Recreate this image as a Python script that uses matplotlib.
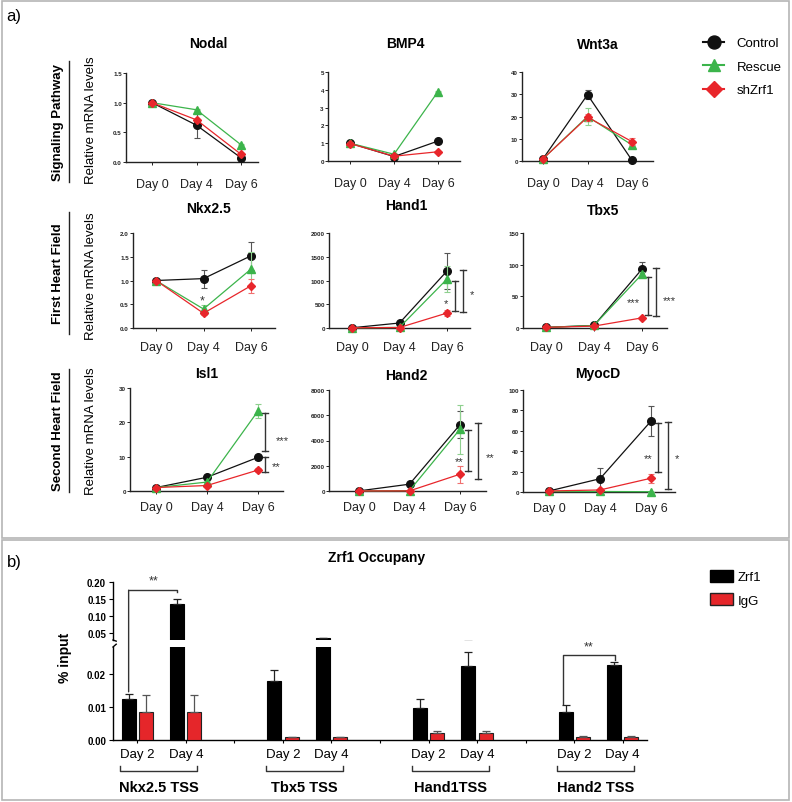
import matplotlib
matplotlib.use('Agg')
import matplotlib.pyplot as plt
import numpy as np
from matplotlib.lines import Line2D
from matplotlib.patches import Rectangle, ConnectionPatch, Patch
import matplotlib.transforms as mtrans

plt.rcParams['font.family'] = ['Liberation Sans', 'DejaVu Sans']

W, H, DPI = 792, 803, 100

# ---------------- Panel a data ----------------
days = ['Day 0', 'Day 4', 'Day 6']
series_names = ['Control', 'Rescue', 'shZrf1']

nodal_ctrl = [1.0, 0.62, 0.07];   nodal_ctrl_err = [0.0, 0.22, 0.02]
nodal_resc = [1.0, 0.88, 0.29];   nodal_resc_err = [0.0, 0.01, 0.01]
nodal_sh = [1.0, 0.71, 0.13];     nodal_sh_err = [0.0, 0.02, 0.02]

bmp4_ctrl = [1.0, 0.25, 1.12];    bmp4_ctrl_err = [0.05, 0.05, 0.05]
bmp4_resc = [1.0, 0.38, 3.9];     bmp4_resc_err = [0.05, 0.05, 0.05]
bmp4_sh = [0.98, 0.27, 0.52];     bmp4_sh_err = [0.05, 0.05, 0.05]

wnt3a_ctrl = [1.0, 29.8, 0.3];    wnt3a_ctrl_err = [0.3, 2.0, 0.2]
wnt3a_resc = [1.0, 20.0, 7.2];    wnt3a_resc_err = [0.3, 3.7, 1.0]
wnt3a_sh = [1.0, 19.7, 8.7];      wnt3a_sh_err = [0.3, 1.6, 1.5]

nkx_ctrl = [1.0, 1.04, 1.52];     nkx_ctrl_err = [0.0, 0.19, 0.30]
nkx_resc = [1.0, 0.40, 1.24];     nkx_resc_err = [0.0, 0.08, 0.35]
nkx_sh = [1.0, 0.31, 0.89];       nkx_sh_err = [0.0, 0.03, 0.15]

hand1_ctrl = [5, 105, 1200];      hand1_ctrl_err = [2, 15, 380]
hand1_resc = [5, 12, 1030];       hand1_resc_err = [2, 5, 280]
hand1_sh = [5, 10, 315];          hand1_sh_err = [2, 3, 60]

tbx5_ctrl = [1, 4, 93];           tbx5_ctrl_err = [0.3, 1, 11]
tbx5_resc = [1, 4, 85];           tbx5_resc_err = [0.3, 1, 4]
tbx5_sh = [1, 3, 16];             tbx5_sh_err = [0.3, 0.5, 2]

isl1_ctrl = [1, 4.0, 9.8];        isl1_ctrl_err = [0.1, 0.3, 0.8]
isl1_resc = [1, 2.6, 23.3];       isl1_resc_err = [0.1, 0.3, 1.9]
isl1_sh = [1, 1.6, 6.1];          isl1_sh_err = [0.1, 0.2, 0.7]

hand2_ctrl = [10, 540, 5250];     hand2_ctrl_err = [5, 40, 1070]
hand2_resc = [5, 30, 4900];       hand2_resc_err = [5, 10, 1950]
hand2_sh = [5, 10, 1330];         hand2_sh_err = [5, 5, 680]

myocd_ctrl = [1, 13, 69.5];       myocd_ctrl_err = [0.3, 11, 15]
myocd_resc = [0.5, 0.5, 0.3];     myocd_resc_err = [0, 0, 0]
myocd_sh = [1, 2, 13.5];          myocd_sh_err = [0.3, 0.5, 4.5]

gene_names = ['Nodal', 'BMP4', 'Wnt3a', 'Nkx2.5', 'Hand1', 'Tbx5', 'Isl1', 'Hand2', 'MyocD']
gene_yticks = [[0.0, 0.5, 1.0, 1.5], [0, 1, 2, 3, 4, 5], [0, 10, 20, 30, 40],
               [0.0, 0.5, 1.0, 1.5, 2.0], [0, 500, 1000, 1500, 2000], [0, 50, 100, 150],
               [0, 10, 20, 30], [0, 2000, 4000, 6000, 8000], [0, 20, 40, 60, 80, 100]]
gene_data = [
    [(nodal_ctrl, nodal_ctrl_err), (nodal_resc, nodal_resc_err), (nodal_sh, nodal_sh_err)],
    [(bmp4_ctrl, bmp4_ctrl_err), (bmp4_resc, bmp4_resc_err), (bmp4_sh, bmp4_sh_err)],
    [(wnt3a_ctrl, wnt3a_ctrl_err), (wnt3a_resc, wnt3a_resc_err), (wnt3a_sh, wnt3a_sh_err)],
    [(nkx_ctrl, nkx_ctrl_err), (nkx_resc, nkx_resc_err), (nkx_sh, nkx_sh_err)],
    [(hand1_ctrl, hand1_ctrl_err), (hand1_resc, hand1_resc_err), (hand1_sh, hand1_sh_err)],
    [(tbx5_ctrl, tbx5_ctrl_err), (tbx5_resc, tbx5_resc_err), (tbx5_sh, tbx5_sh_err)],
    [(isl1_ctrl, isl1_ctrl_err), (isl1_resc, isl1_resc_err), (isl1_sh, isl1_sh_err)],
    [(hand2_ctrl, hand2_ctrl_err), (hand2_resc, hand2_resc_err), (hand2_sh, hand2_sh_err)],
    [(myocd_ctrl, myocd_ctrl_err), (myocd_resc, myocd_resc_err), (myocd_sh, myocd_sh_err)],
]

# significance annotations (gene index, x in day units, y0, y1, label, label x, label y)
sig_brackets = [
    (4, 2.17, 990, 358, '*', 1.98, 520),
    (4, 2.34, 1220, 335, '*', 2.52, 710),
    (5, 2.13, 80, 20, '***', 1.83, 41),
    (5, 2.29, 95, 19, '***', 2.58, 44),
    (6, 2.14, 22.7, 11.7, '***', 2.47, 14.8),
    (6, 2.14, 9.9, 5.5, '**', 2.35, 7.2),
    (7, 2.16, 4830, 1580, '**', 1.98, 2350),
    (7, 2.36, 5380, 950, '**', 2.59, 2650),
    (8, 2.14, 68, 20, '**', 1.94, 33),
    (8, 2.33, 69, 3, '*', 2.5, 33),
]
sig_text_only = [(3, 0.97, 0.58, '*')]

# ---------------- Panel b data ----------------
chip_groups = ['Nkx2.5 TSS', 'Tbx5 TSS', 'Hand1TSS', 'Hand2 TSS']
chip_days = ['Day 2', 'Day 4']
zrf1 = [0.0124, 0.135, 0.0179, 0.035, 0.0097, 0.0224, 0.0085, 0.0227]
zrf1_err = [0.0015, 0.016, 0.0031, 0.0012, 0.0027, 0.0040, 0.0021, 0.0009]
igg = [0.0085, 0.0085, 0.0008, 0.0008, 0.0021, 0.0021, 0.0009, 0.0009]
igg_err = [0.0051, 0.0051, 0.0002, 0.0002, 0.0006, 0.0006, 0.0002, 0.0002]

# ---------------- styles ----------------
colors = ['#111111', '#3cb44b', '#e8262b']
ecolors = ['#555555', '#8fd08f', '#f07070']
markers = ['o', '^', 'D']
msizes = [5.5, 5.5, 4.5]
RED = '#e5262a'

fig = plt.figure(figsize=(W / DPI, H / DPI), dpi=DPI)


def ax_px(x0, ytop, x1, ybot):
    return fig.add_axes([x0 / W, 1 - ybot / H, (x1 - x0) / W, (ybot - ytop) / H])


def ftext(x, y, s, **kw):
    fig.text(x / W, 1 - y / H, s, **kw)


# layout: spine_x, day0_x, day6_x, end_x, top_y, bottom_y, title_x, title_y, xlabel pad
layouts = [
    (126, 152, 241, 258, 74, 163, 208, 44, 9.5),
    (328, 350, 438, 460, 73, 162, 405, 44, 9.5),
    (522, 543, 632, 653, 73, 162, 598, 45, 9.5),
    (133, 156, 251, 275, 234, 329, 208, 209, 7),
    (329, 352, 447, 470, 234, 329, 406, 206, 7),
    (523, 546, 642, 667, 234, 329, 603, 211, 7),
    (130, 156, 258, 283, 389, 492, 207, 374, 5.5),
    (329, 359, 460, 486, 391, 492, 406, 376, 5.5),
    (523, 549, 651, 675, 391, 493, 598, 374, 5.5),
]

axes_a = []
for gi, (name, yt, data, lay) in enumerate(zip(gene_names, gene_yticks, gene_data, layouts)):
    sx, d0, d6, ex, ty, by, tx, tty, xpad = lay
    sp = (d6 - d0) / 2
    ax = ax_px(sx, ty, ex, by)
    axes_a.append(ax)
    ax.set_xlim((sx - d0) / sp, (ex - d0) / sp)
    ax.set_ylim(yt[0], yt[-1])
    xs = np.arange(len(days))
    for si, (vals, err) in enumerate(data):
        cont = ax.errorbar(xs, vals, yerr=err, color=colors[si], ecolor=ecolors[si],
                           marker=markers[si], ms=msizes[si], lw=0.9, elinewidth=0.8,
                           capsize=2.5, capthick=0.8, zorder=3 + si)
        for art in cont.get_children():
            art.set_clip_on(False)
    for s in ['top', 'right']:
        ax.spines[s].set_visible(False)
    for s in ['left', 'bottom']:
        ax.spines[s].set_linewidth(1.0)
        ax.spines[s].set_color('#222222')
    if any(isinstance(v, float) for v in yt):
        labs = ['%.1f' % v for v in yt]
    else:
        labs = ['%d' % v for v in yt]
    ax.set_yticks(yt, labs, fontsize=4.5, fontweight='bold')
    ax.set_xticks(xs, days, fontsize=9)
    ax.tick_params(axis='y', length=2, width=0.7, pad=1, colors='#222222')
    ax.tick_params(axis='x', length=2, width=0.7, pad=xpad, colors='#222222')
    ftext(tx, tty, name, fontsize=10, fontweight='bold', ha='center', va='center')

for gi, x, y0, y1, lab, lx, ly in sig_brackets:
    ax = axes_a[gi]
    sx, d0, d6 = layouts[gi][0], layouts[gi][1], layouts[gi][2]
    cw = 3.0 / ((d6 - d0) / 2)
    ax.plot([x - cw, x + cw, np.nan, x, x, np.nan, x - cw, x + cw],
            [y0, y0, np.nan, y0, y1, np.nan, y1, y1], color='#333333', lw=1.0, clip_on=False)
    ax.text(lx, ly, lab, ha='center', va='center', fontsize=8, color='#333333', clip_on=False)
for gi, lx, ly, lab in sig_text_only:
    axes_a[gi].text(lx, ly, lab, ha='center', va='center', fontsize=9, color='#333333')

# legend a
handles = [Line2D([], [], color=colors[i], marker=markers[i], ms=msizes[i] * 1.7, lw=1.5)
           for i in range(3)]
fig.legend(handles, series_names, loc='upper left', bbox_to_anchor=(703 / W, 1 - 38 / H),
           frameon=False, fontsize=9.5, handlelength=1.6, handletextpad=0.95,
           labelspacing=0.85, borderpad=0, borderaxespad=0)

# row labels
row_labels = ['Signaling Pathway', 'First Heart Field', 'Second Heart Field']
row_spans = [(62, 183), (213, 335), (370, 493)]
row_mrna = [120, 276, 431]
for lab, (y0, y1), ym in zip(row_labels, row_spans, row_mrna):
    ftext(58, (y0 + y1) / 2, lab, rotation=90, fontsize=9.5, fontweight='bold', ha='center', va='center')
    fig.add_artist(Line2D([69 / W, 69 / W], [1 - y0 / H, 1 - y1 / H], color='#222222', lw=1.0))
    ftext(91, ym, 'Relative mRNA levels', rotation=90, fontsize=9.5, ha='center', va='center')

ftext(14, 16, 'a)', fontsize=12, ha='center', va='center')
ftext(14, 562, 'b)', fontsize=12, ha='center', va='center')

# panel frames
fig.add_artist(Rectangle((1.5 / W, 1 - 539 / H), 787.5 / W, 537.5 / H, transform=fig.transFigure,
                         fill=False, edgecolor='#b5b5b5', lw=1.2))
fig.add_artist(Rectangle((1.5 / W, 1 - 801 / H), 787.5 / W, 260 / H, transform=fig.transFigure,
                         fill=False, edgecolor='#b5b5b5', lw=1.2))

# ---------------- Panel b ----------------
pos = np.array([g * 3 + d for g in range(len(chip_groups)) for d in range(len(chip_days))], dtype=float)
ax_up = ax_px(113, 583, 647, 641)
ax_lo = ax_px(113, 648, 647, 741)
off, bw = 0.178, 0.29
for ax in (ax_up, ax_lo):
    ax.set_xlim(-0.5, 10.5)
    ax.bar(pos - off, zrf1, bw, color='black', edgecolor='black', lw=0.8,
           yerr=[np.zeros(len(zrf1)), zrf1_err],
           error_kw=dict(ecolor='#222222', elinewidth=0.9, capsize=3, capthick=0.9), zorder=3)
    ax.bar(pos + off, igg, bw, color=RED, edgecolor='#222222', lw=0.8,
           yerr=[np.zeros(len(igg)), igg_err],
           error_kw=dict(ecolor='#555555', elinewidth=0.9, capsize=3, capthick=0.9), zorder=3)
    for s in ['top', 'right']:
        ax.spines[s].set_visible(False)
    ax.spines['left'].set_linewidth(1.0)
ax_up.set_ylim(0.03, 0.20)
ax_lo.set_ylim(0.0, 0.028)
ax_up.spines['bottom'].set_visible(False)
ax_up.set_xticks([])
up_ticks = [0.05, 0.10, 0.15, 0.20]
lo_ticks = [0.00, 0.01, 0.02]
ax_up.set_yticks(up_ticks, ['%.2f' % v for v in up_ticks], fontsize=7, fontweight='bold')
ax_lo.set_yticks(lo_ticks, ['%.2f' % v for v in lo_ticks], fontsize=7, fontweight='bold')
for ax in (ax_up, ax_lo):
    ax.tick_params(axis='y', length=3, width=0.8, pad=2)
ax_lo.spines['bottom'].set_linewidth(1.0)
tick_pos = np.arange(11)
tick_labs = []
for t in tick_pos:
    if t % 3 == 2:
        tick_labs.append('')
    else:
        tick_labs.append(chip_days[t % 3])
ax_lo.set_xticks(tick_pos, tick_labs, fontsize=9.5)
ax_lo.tick_params(axis='x', length=2, width=0.8, pad=4)
# break hooks
ax_up.plot([0, 0.006], [0, -0.02], transform=ax_up.transAxes, color='black', lw=1.0, clip_on=False)
ax_lo.plot([0, 0.006], [1, 1.03], transform=ax_lo.transAxes, color='black', lw=1.0, clip_on=False)

# braces + group labels
blend = mtrans.blended_transform_factory(ax_lo.transData, ax_lo.transAxes)
for g, name in enumerate(chip_groups):
    a, b = g * 3 - 0.35, g * 3 + 1 + 0.24
    ax_lo.plot([a, a, b, b], [-0.28, -0.335, -0.335, -0.28], transform=blend, color='#333333',
               lw=1.0, clip_on=False)
    ax_lo.text((a + b) / 2, -0.505, name, transform=blend, ha='center', va='center',
               fontsize=10.5, fontweight='bold')

# significance in b
xl, xr = 0 - off, 1 - off
con = ConnectionPatch(xyA=(xl, 0.0145), coordsA=ax_lo.transData, xyB=(xl, 0.176),
                      coordsB=ax_up.transData, color='#333333', lw=1.0)
fig.add_artist(con)
ax_up.plot([xl, xr, xr], [0.176, 0.176, 0.171], color='#333333', lw=1.0, clip_on=False)
ax_up.text(0.33, 0.206, '**', ha='center', va='center', fontsize=9, color='#333333', clip_on=False)
xl2, xr2 = 9 - off - 0.05, 10 - off + 0.02
ax_lo.plot([xl2, xl2, xr2, xr2], [0.0109, 0.0255, 0.0255, 0.0242], color='#333333', lw=1.0,
           clip_on=False)
ax_lo.text(9.3, 0.0282, '**', ha='center', va='center', fontsize=9, color='#333333', clip_on=False)

ftext(65, 658, '% input', rotation=90, fontsize=10, fontweight='bold', ha='center', va='center')
ftext(377, 558, 'Zrf1 Occupany', fontsize=10, fontweight='bold', ha='center', va='center')

hb = [Patch(facecolor='black', edgecolor='black'), Patch(facecolor=RED, edgecolor='#222222')]
fig.legend(hb, ['Zrf1', 'IgG'], loc='upper left', bbox_to_anchor=(710 / W, 1 - 571 / H),
           frameon=False, fontsize=9.5, handlelength=1.75, handleheight=1.0,
           handletextpad=0.35, labelspacing=0.75, borderpad=0, borderaxespad=0)

fig.savefig('out.png', dpi=DPI)
